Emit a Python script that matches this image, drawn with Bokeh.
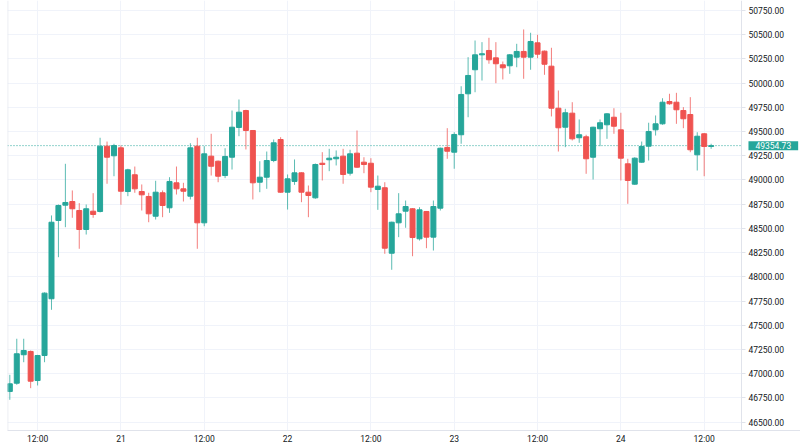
from bokeh.plotting import figure
from bokeh.models import (ColumnDataSource, Range1d, FixedTicker, SingleIntervalTicker,
                          PrintfTickFormatter, Span, Label)
from bokeh.embed import file_html
from bokeh.resources import INLINE

# hourly BTC candles, hour offset from day 20 00:00
first_hour = 8
opens = [46817, 46902, 47196, 47230, 46930, 47188, 47774, 48582, 48740, 48778,
         48685, 48489, 48678, 48675, 49349, 49250, 49332, 48881, 49054, 48881,
         48830, 48626, 48868, 48713, 48971, 48909, 48833, 49349, 48558, 49246,
         49194, 49046, 49235, 49542, 49717, 49511, 48977, 49029, 49201, 49418,
         48874, 48985, 49074, 48874, 48816, 49173, 49209, 49219, 49246, 49070,
         49277, 49184, 49173, 48902, 48920, 48244, 48558, 48678, 48703, 48393,
         48675, 48410, 48709, 49336, 49287, 49467, 49890, 50138, 50292, 50337,
         50261, 50189, 50179, 50268, 50327, 50268, 50416, 50330, 50175, 49741,
         49545, 49690, 49436, 49446, 49235, 49529, 49570, 49648, 49518, 49167,
         48957, 49184, 49349, 49518, 49580, 49810, 49803, 49717, 49676, 49260,
         49477, 49346]
highs = [46989, 47361, 47361, 47240, 47195, 47840, 48634, 48747, 49167, 48892,
         48761, 48747, 48864, 49436, 49397, 49374, 49356, 49116, 49139, 48954,
         48868, 48992, 48892, 49029, 49139, 48971, 49380, 49436, 49349, 49477,
         49201, 49328, 49717, 49831, 49725, 49515, 49194, 49294, 49418, 49442,
         49057, 49212, 49080, 48943, 49170, 49287, 49322, 49305, 49322, 49312,
         49511, 49235, 49225, 49046, 48977, 48570, 48864, 48788, 48710, 48719,
         48680, 48788, 49335, 49535, 49493, 49968, 50268, 50440, 50423, 50468,
         50423, 50223, 50300, 50406, 50554, 50520, 50499, 50337, 50365, 49924,
         49735, 49803, 49625, 49467, 49550, 49625, 49690, 49741, 49694, 49219,
         49235, 49397, 49591, 49666, 49844, 49890, 49900, 49752, 49855, 49493,
         49485, 49374]
lows = [46731, 46886, 47119, 46851, 46879, 47119, 47660, 48203, 48513, 48610,
        48290, 48437, 48610, 48665, 48961, 49039, 48744, 48833, 48868, 48685,
        48564, 48592, 48616, 48661, 48850, 48778, 48799, 48290, 48523, 49046,
        48977, 49019, 49108, 49452, 49315, 48799, 48874, 48909, 49184, 48868,
        48695, 48950, 48771, 48616, 48806, 48995, 49091, 49150, 48961, 49046,
        49125, 49070, 48874, 48692, 48238, 48073, 48410, 48507, 48213, 48375,
        48296, 48272, 48685, 49219, 49116, 49374, 49648, 49906, 50027, 50200,
        49999, 50038, 50096, 50164, 50045, 50138, 50257, 50086, 49656, 49294,
        49339, 49408, 49384, 49064, 49005, 49349, 49425, 49477, 48995, 48754,
        48950, 49178, 49201, 49459, 49570, 49776, 49580, 49535, 49287, 49098,
        49039, 49322]
closes = [46896, 47206, 47240, 46923, 47188, 47832, 48564, 48737, 48768, 48703,
          48489, 48703, 48644, 49349, 49235, 49356, 48884, 49105, 48909, 48847,
          48651, 48874, 48737, 48985, 48909, 48884, 49332, 48558, 49270, 49142,
          49039, 49243, 49545, 49700, 49511, 48971, 49029, 49201, 49384, 48874,
          49012, 49074, 48874, 48840, 49160, 49160, 49225, 49235, 49057, 49270,
          49132, 49160, 48926, 48936, 48296, 48564, 48651, 48726, 48406, 48692,
          48410, 48726, 49328, 49297, 49470, 49883, 50079, 50292, 50303, 50241,
          50200, 50158, 50292, 50327, 50268, 50430, 50299, 50195, 49741, 49539,
          49694, 49425, 49467, 49219, 49545, 49591, 49683, 49555, 49225, 48995,
          49225, 49346, 49501, 49580, 49803, 49787, 49725, 49632, 49312, 49452,
          49346, 49354.73]
tick_hours = [12, 24, 36, 48, 60, 72, 84, 96, 108]
tick_labels = ["12:00", "21", "12:00", "22", "12:00", "23", "12:00", "24", "12:00"]
last_price = 49354.73

UP = "#26a69a"
DOWN = "#ef5350"
TEXT = "#131722"
GRID = "#f0f3fa"
AXIS = "#e0e3eb"

# time window shown and position (in hours) of the price scale
x_start, x_scale, x_end = 7.665, 113.37, 121.87
y_start, y_end = 46414, 50853

hours = [first_hour + i for i in range(len(opens))]
colors = [UP if c >= o else DOWN for o, c in zip(opens, closes)]
src = ColumnDataSource(dict(
    x=hours, high=highs, low=lows, color=colors,
    top=[max(o, c) for o, c in zip(opens, closes)],
    bottom=[min(o, c) for o, c in zip(opens, closes)],
))

p = figure(frame_width=793, frame_height=430,
           x_range=Range1d(x_start, x_end), y_range=Range1d(y_start, y_end),
           output_backend="svg", toolbar_location=None, y_axis_location="right",
           min_border_left=7, min_border_top=0, min_border_right=0, min_border_bottom=0,
           background_fill_color="white", border_fill_color="white",
           outline_line_color=None)

# grid
p.xgrid.grid_line_color = GRID
p.ygrid.grid_line_color = GRID
p.xgrid.ticker = FixedTicker(ticks=tick_hours)
p.ygrid.ticker = SingleIntervalTicker(interval=250)

# last price dotted line (under the price scale panel)
p.add_layout(Span(location=last_price, dimension="width", line_color=UP,
                  line_dash="1 2", line_width=1, level="underlay"))

# white price-scale area
p.quad(left=[x_scale], right=[x_end], bottom=[y_start], top=[y_end],
       fill_color="white", line_color=None)

# candles
p.segment(x0="x", y0="high", x1="x", y1="low", line_color="color",
          line_alpha=0.75, line_width=1, source=src)
p.vbar(x="x", width=0.72, top="top", bottom="bottom", fill_color="color",
       line_color="color", line_width=1, source=src)

# left pane border
p.add_layout(Span(location=x_start + 0.04, dimension="height", line_color=AXIS, line_width=1))

# price axis
ya = p.yaxis[0]
ya.fixed_location = x_scale
ya.ticker = SingleIntervalTicker(interval=250)
ya.formatter = PrintfTickFormatter(format="%.2f")
ya.axis_line_color = AXIS
ya.major_tick_line_color = AXIS
ya.major_tick_out = 4
ya.major_tick_in = 0
ya.minor_tick_line_color = None
ya.major_label_standoff = 3
ya.major_label_text_font = "Roboto"
ya.major_label_text_font_size = "8.5px"
ya.major_label_text_color = TEXT

# last price tag on the price scale
p.add_layout(Label(x=x_scale, y=last_price, x_units="data", y_units="data",
                   text="%.2f" % last_price, text_color="white",
                   text_font="Roboto", text_font_size="8.5px",
                   text_baseline="middle", text_align="left",
                   background_fill_color=UP, padding=(7, 1), x_offset=7))

# time axis
xa = p.xaxis[0]
xa.ticker = FixedTicker(ticks=tick_hours)
xa.major_label_overrides = {h: lab for h, lab in zip(tick_hours, tick_labels)}
xa.axis_line_color = AXIS
xa.major_tick_line_color = None
xa.major_tick_out = 0
xa.major_tick_in = 0
xa.minor_tick_line_color = None
xa.major_label_standoff = 3
xa.major_label_text_font = "Roboto"
xa.major_label_text_font_size = "8.5px"
xa.major_label_text_color = TEXT

open("out.html", "w").write(file_html(p, INLINE))
